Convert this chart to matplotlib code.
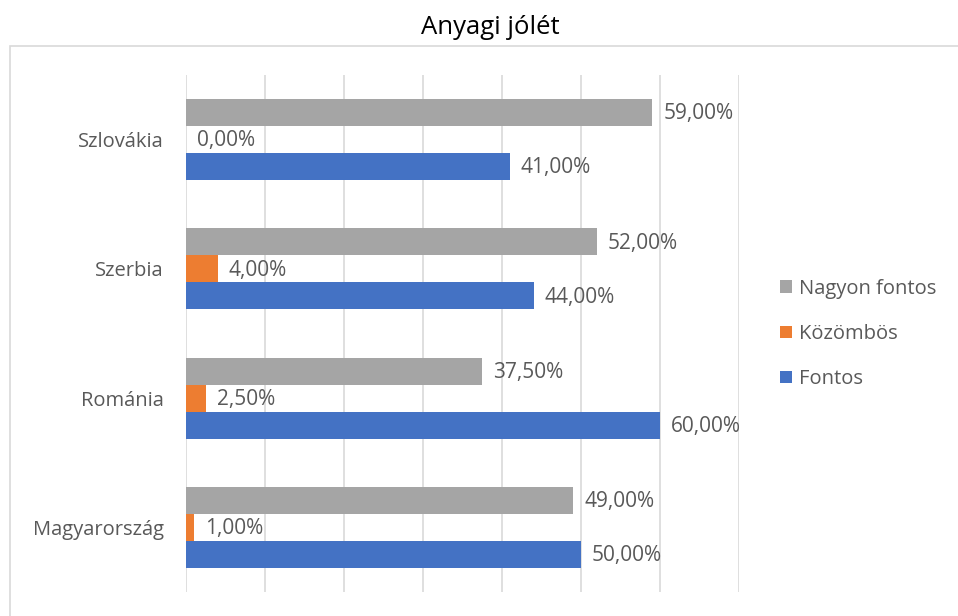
import numpy as np
import matplotlib.pyplot as plt
from matplotlib.patches import Rectangle

# data
countries = ["Magyarország", "Románia", "Szerbia", "Szlovákia"]
fontos = [50.0, 60.0, 44.0, 41.0]
kozombos = [1.0, 2.5, 4.0, 0.0]
nagyon_fontos = [49.0, 37.5, 52.0, 59.0]

series = [("Nagyon fontos", nagyon_fontos, "#a5a5a5", 1),
          ("Közömbös", kozombos, "#ed7d31", 0),
          ("Fontos", fontos, "#4472c4", -1)]

plt.rcParams['font.family'] = ['Open Sans', 'DejaVu Sans']
txt = "#595959"
fs = 14.5

fig = plt.figure(figsize=(9.58, 6.16), dpi=100)
# chart border (only left/top visible in the reference)
fig.patches.append(Rectangle((10 / 958, -0.1), 1.2, 1 - 46 / 616 + 0.1,
                             transform=fig.transFigure, fill=False,
                             edgecolor="#d9d9d9", linewidth=1.2))

ax = fig.add_axes([186 / 958, 1 - 592 / 616, 553 / 958, 517 / 616])

y = np.arange(len(countries))
h = 0.209
handles = []
for name, vals, col, off in series:
    bars = ax.barh(y + off * h, vals, height=h, color=col, label=name, zorder=3)
    handles.append(bars)
    for yy, v in zip(y + off * h, vals):
        ax.text(v + 1.4, yy - 0.01, f"{v:.2f}%".replace(".", ","), va="center",
                ha="left", fontsize=15, color=txt, zorder=4)

ax.set_xlim(0, 70)
ax.set_ylim(-0.5, len(countries) - 0.5)
ax.set_xticks(np.arange(0, 71, 10))
ax.xaxis.grid(True, color="#d9d9d9", linewidth=1.2, zorder=0)
ax.tick_params(axis="x", length=0, labelbottom=False)
ax.tick_params(axis="y", length=0, pad=16, labelsize=fs, labelcolor=txt)
ax.set_yticks(y)
ax.set_yticklabels(countries)
for s in ax.spines.values():
    s.set_visible(False)

fig.text(490 / 958, 1 - 28 / 616, "Anyagi jólét", ha="center", va="center",
         fontsize=18.5, color="#000000")

fig.legend(handles=handles, loc="center left", bbox_to_anchor=(762 / 958, 1 - 334 / 616),
           frameon=False, fontsize=fs, labelcolor=txt, handlelength=0.6,
           handleheight=0.6, handletextpad=0.35, labelspacing=1.25)

fig.savefig("out.png", dpi=100)
